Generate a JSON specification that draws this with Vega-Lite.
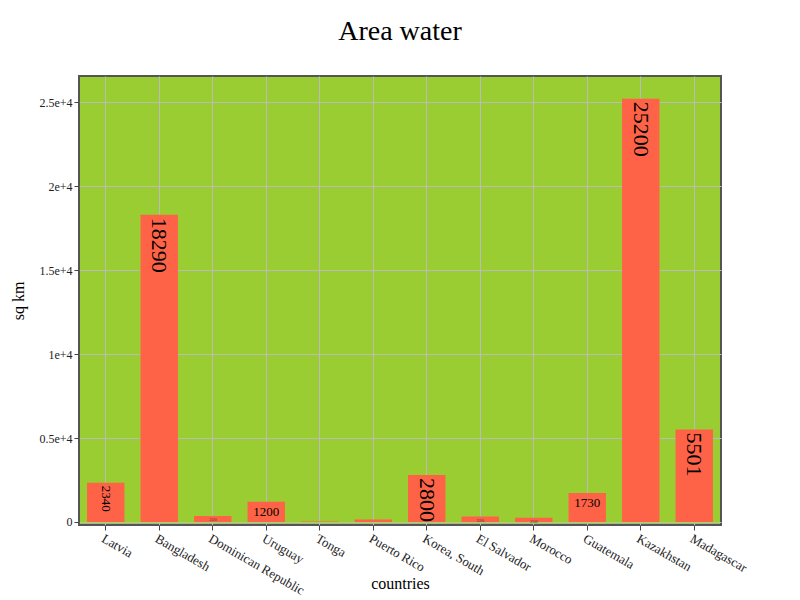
{
  "$schema": "https://vega.github.io/schema/vega-lite/v6.json",
  "autosize": {"type": "fit", "contains": "padding"},
  "width": 800,
  "height": 600,
  "padding": {"left": 10, "right": 58, "top": 18, "bottom": 2},
  "title": {"text": "Area water", "fontSize": 28, "font": "Liberation Serif", "fontWeight": "normal", "color": "#000", "offset": 30},
  "config": {
    "font": "Liberation Serif",
    "view": {"fill": "#9acd32", "stroke": "#555", "strokeWidth": 2},
    "axis": {"labelFont": "Liberation Serif", "titleFont": "Liberation Serif", "labelFontSize": 13, "titleFontSize": 16, "titleFontWeight": "normal", "labelColor": "#222", "titleColor": "#000", "gridColor": "#bbbbbb", "gridWidth": 1, "domain": false, "tickColor": "#444"}
  },
  "data": {"values": [
    {"country": "Latvia", "area": 2340, "lab": "rs"},
    {"country": "Bangladesh", "area": 18290, "lab": "rl"},
    {"country": "Dominican Republic", "area": 350, "lab": "t"},
    {"country": "Uruguay", "area": 1200, "lab": "h"},
    {"country": "Tonga", "area": 30, "lab": "n"},
    {"country": "Puerto Rico", "area": 145, "lab": "n"},
    {"country": "Korea, South", "area": 2800, "lab": "rl"},
    {"country": "El Salvador", "area": 320, "lab": "t"},
    {"country": "Morocco", "area": 250, "lab": "t"},
    {"country": "Guatemala", "area": 1730, "lab": "h"},
    {"country": "Kazakhstan", "area": 25200, "lab": "rl"},
    {"country": "Madagascar", "area": 5501, "lab": "rl"}
  ]},
  "encoding": {
    "x": {"field": "country", "type": "nominal", "sort": null, "title": "countries",
      "scale": {"paddingInner": 0.3, "paddingOuter": 0.15},
      "axis": {"labelAngle": 30, "labelAlign": "left", "labelBaseline": "top", "grid": true, "titlePadding": -22}},
    "y": {"field": "area", "type": "quantitative", "title": "sq km",
      "scale": {"domain": [-180, 26560], "nice": false, "zero": false},
      "axis": {"values": [0, 5000, 10000, 15000, 20000, 25000], "labelFontSize": 12, "labelExpr": "datum.value == 0 ? '0' : format(datum.value/10000, '') + 'e+4'", "titlePadding": 12}}
  },
  "layer": [
    {"mark": {"type": "bar", "color": "#ff6347"}, "encoding": {"y2": {"datum": 0}}},
    {"transform": [{"filter": "datum.lab == 'rl'"}],
      "mark": {"type": "text", "angle": 90, "align": "left", "baseline": "middle", "fontSize": 22, "color": "#000"},
      "encoding": {"text": {"field": "area"}, "yOffset": {"value": 3}}},
    {"transform": [{"filter": "datum.lab == 'rs'"}],
      "mark": {"type": "text", "angle": 90, "align": "left", "baseline": "middle", "fontSize": 13, "color": "#000", "dx": 3},
      "encoding": {"text": {"field": "area"}}},
    {"transform": [{"filter": "datum.lab == 'h'"}],
      "mark": {"type": "text", "baseline": "top", "fontSize": 13, "color": "#000", "dy": 4},
      "encoding": {"text": {"field": "area"}}},
    {"transform": [{"filter": "datum.lab == 't'"}],
      "mark": {"type": "text", "baseline": "top", "fontSize": 5, "color": "#333", "dy": 1},
      "encoding": {"text": {"field": "area"}}}
  ]
}
